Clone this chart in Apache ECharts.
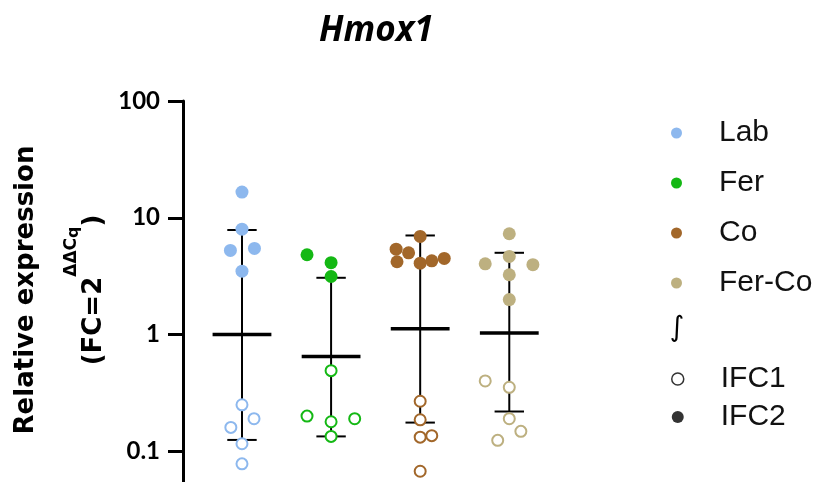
<!DOCTYPE html>
<html><head><meta charset="utf-8">
<script src="https://cdn.jsdelivr.net/npm/echarts@6/dist/echarts.min.js"></script>
<style>html,body{margin:0;padding:0;background:#fff}#c{width:821px;height:482px}</style>
</head><body><div id="c"></div>
<script>
// ---- data ----
const groups = ['Lab', 'Fer', 'Co', 'Fer-Co'];
const groupColors = ['#8DB8EE', '#14B814', '#A2672A', '#BDB080'];
// IFC2 (filled) values per group
const ifc2Lab = [16.6, 7.99, 5.25, 5.46, 3.49];
const ifc2Fer = [4.82, 4.12, 3.14];
const ifc2Co = [6.92, 5.38, 5.01, 4.20, 4.08, 4.28, 4.48];
const ifc2FerCo = [7.29, 4.66, 4.03, 3.96, 3.25, 1.99];
// horizontal scatter (jitter) of IFC2 points, in category units
const ifc2LabJit = [0, 0, -0.13, 0.14, 0];
const ifc2FerJit = [-0.27, 0, 0];
const ifc2CoJit = [0, -0.27, -0.13, -0.26, 0, 0.13, 0.27];
const ifc2FerCoJit = [0, 0, -0.27, 0.265, 0, 0];
// IFC1 (open) values per group
const ifc1Lab = [0.25, 0.19, 0.16, 0.116, 0.078];
const ifc1Fer = [0.49, 0.20, 0.19, 0.179, 0.134];
const ifc1Co = [0.268, 0.186, 0.132, 0.136, 0.0674];
const ifc1FerCo = [0.40, 0.353, 0.19, 0.148, 0.124];
const ifc1LabJit = [0, 0.135, -0.125, 0, 0];
const ifc1FerJit = [0, -0.27, 0.265, 0, 0];
const ifc1CoJit = [0, 0, 0, 0.13, 0];
const ifc1FerCoJit = [-0.27, 0, 0, 0.13, -0.13];
// mean and SD bounds
const means = [1.0, 0.648, 1.12, 1.03];
const sdUpper = [7.85, 3.06, 7.05, 5.01];
const sdLower = [0.125, 0.134, 0.176, 0.219];
// y tick labels (log10 exponent -> label)
const yTickLabels = { '-2': '0.01', '-1': '0.1', '0': '1', '1': '10', '2': '100' };

const ifc2 = [ifc2Lab, ifc2Fer, ifc2Co, ifc2FerCo];
const ifc2Jit = [ifc2LabJit, ifc2FerJit, ifc2CoJit, ifc2FerCoJit];
const ifc1 = [ifc1Lab, ifc1Fer, ifc1Co, ifc1FerCo];
const ifc1Jit = [ifc1LabJit, ifc1FerJit, ifc1CoJit, ifc1FerCoJit];

const chart = echarts.init(document.getElementById('c'), null, { renderer: 'canvas' });

const series = [];
series.push({
  type: 'custom',
  name: 'errorbars',
  z: 1,
  silent: true,
  encode: { x: 0, y: [1, 2, 3] },
  data: groups.map((g, i) => [i + 1, means[i], sdLower[i], sdUpper[i]]),
  renderItem(params, api) {
    const x = api.value(0);
    const m = api.coord([x, api.value(1)]);
    const lo = api.coord([x, api.value(2)]);
    const hi = api.coord([x, api.value(3)]);
    const meanHalf = api.coord([x + 0.33, api.value(1)])[0] - m[0];
    const capHalf = api.coord([x + 0.165, api.value(1)])[0] - m[0];
    const thin = { stroke: '#000', lineWidth: 2 };
    return {
      type: 'group',
      children: [
        { type: 'line', shape: { x1: m[0], y1: hi[1], x2: m[0], y2: lo[1] }, style: thin },
        { type: 'line', shape: { x1: m[0] - capHalf, y1: hi[1], x2: m[0] + capHalf, y2: hi[1] }, style: thin },
        { type: 'line', shape: { x1: m[0] - capHalf, y1: lo[1], x2: m[0] + capHalf, y2: lo[1] }, style: thin },
        { type: 'line', shape: { x1: m[0] - meanHalf, y1: m[1], x2: m[0] + meanHalf, y2: m[1] }, style: { stroke: '#000', lineWidth: 3.5 } }
      ]
    };
  }
});
groups.forEach((g, i) => {
  series.push({
    type: 'scatter', name: g, z: 3, symbol: 'circle', symbolSize: 13,
    itemStyle: { color: groupColors[i], opacity: 1 },
    data: ifc2[i].map((v, j) => [i + 1 + ifc2Jit[i][j], v])
  });
  series.push({
    type: 'scatter', name: g + ' IFC1', z: 3, symbol: 'circle', symbolSize: 11,
    itemStyle: { color: '#fff', borderColor: groupColors[i], borderWidth: 2, opacity: 1 },
    data: ifc1[i].map((v, j) => [i + 1 + ifc1Jit[i][j], v])
  });
});
series.push({ type: 'scatter', name: 'IFC1', data: [], itemStyle: { color: '#fff', borderColor: '#000', borderWidth: 1.5 } });
series.push({ type: 'scatter', name: 'IFC2', data: [], itemStyle: { color: '#000' } });

const legendText = { fontFamily: 'Liberation Sans', fontSize: 30, color: '#111', lineHeight: 30, padding: [0, 0, 0, 32] };

chart.setOption({
  animation: false,
  backgroundColor: '#fff',
  title: {
    text: 'Hmox1', left: 314, top: 9,
    textStyle: { fontFamily: 'Open Sans', fontWeight: 'bold', fontStyle: 'italic', fontSize: 35, color: '#000' }
  },
  grid: { left: 183, top: 101, width: 376, height: 467, outerBoundsMode: 'none', containLabel: false },
  xAxis: {
    type: 'value', min: 0.338, max: 4.558, show: false
  },
  yAxis: {
    type: 'log', logBase: 10, min: 0.01, max: 100,
    axisLine: { show: true, lineStyle: { color: '#000', width: 3 } },
    axisTick: { show: true, length: 15, lineStyle: { color: '#000', width: 3 } },
    minorTick: { show: false },
    splitLine: { show: false },
    axisLabel: {
      margin: 23,
      fontFamily: 'Lato', fontWeight: 'bold', fontSize: 24, color: '#000',
      formatter: v => yTickLabels[String(Math.round(Math.log10(v)))] || ''
    }
  },
  legend: [
    {
      orient: 'vertical', left: 666, top: 113, itemGap: 20, itemWidth: 11, itemHeight: 11,
      icon: 'circle', selectedMode: false,
      textStyle: legendText,
      data: groups.map((g, i) => ({ name: g, itemStyle: { color: groupColors[i] } }))
    },
    {
      orient: 'vertical', left: 666, top: 359, itemGap: 8, itemWidth: 12, itemHeight: 12,
      icon: 'circle', selectedMode: false,
      textStyle: legendText,
      data: [
        { name: 'IFC1', itemStyle: { color: '#fff', borderColor: '#000', borderWidth: 1.5 } },
        { name: 'IFC2', itemStyle: { color: '#000', borderWidth: 0 } }
      ]
    }
  ],
  graphic: [
    {
      type: 'text', x: 26, y: 290, rotation: Math.PI / 2,
      style: { text: 'Relative expression', font: 'bold 26px "DejaVu Sans"', fill: '#000', align: 'center', verticalAlign: 'middle' }
    },
    {
      type: 'text', x: 85, y: 290, rotation: Math.PI / 2,
      style: {
        text: '{m|(FC=2}{sup|ΔΔC}{sub|q}{m|)}',
        align: 'center', verticalAlign: 'middle',
        rich: {
          m: { font: 'bold 26px "DejaVu Sans"', fill: '#000', lineHeight: 44, verticalAlign: 'bottom' },
          sup: { font: 'bold 17px "DejaVu Sans"', fill: '#000', verticalAlign: 'top' },
          sub: { font: 'bold 16px "DejaVu Sans"', fill: '#000', verticalAlign: 'top', padding: [3, 0, 0, 0] }
        }
      }
    },
    {
      type: 'text', x: 677, y: 329,
      style: { text: '∫', font: '28px DejaVu Sans', fill: '#000', align: 'center', verticalAlign: 'middle' }
    }
  ],
  series
});
</script></body></html>
